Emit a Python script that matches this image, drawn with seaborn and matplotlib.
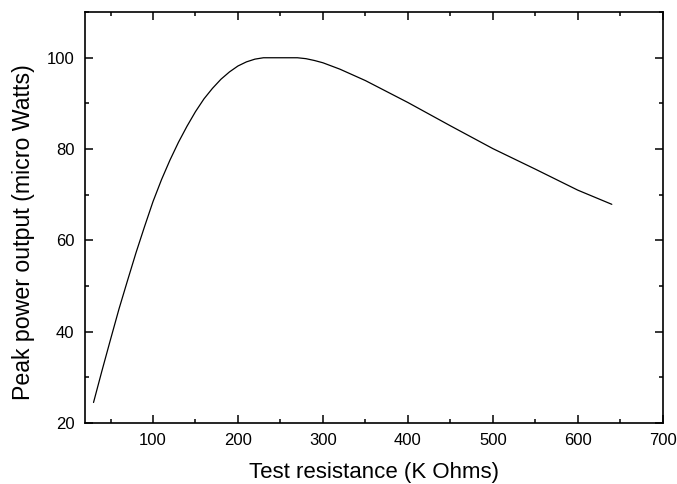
import matplotlib
matplotlib.use("Agg")
import matplotlib.pyplot as plt
from matplotlib.ticker import MultipleLocator
import seaborn as sns
import pandas as pd

resistance = [30, 40, 50, 60, 70, 80, 90, 100, 110, 120, 130, 140, 150, 160, 170,
              180, 190, 200, 210, 220, 230, 270, 280, 290, 300, 320, 350, 400,
              450, 500, 550, 600, 640]
power = [24.5, 31.5, 38.3, 45.0, 51.2, 57.3, 63.0, 68.5, 73.3, 77.6, 81.5, 85.0,
         88.2, 91.0, 93.3, 95.3, 96.9, 98.2, 99.1, 99.7, 100.0, 100.0, 99.8, 99.4,
         98.9, 97.5, 95.0, 90.2, 85.1, 80.1, 75.6, 71.0, 67.9]

df = pd.DataFrame({"R": resistance, "P": power})

sns.set_style("ticks")
plt.rcParams["font.family"] = ["Liberation Sans", "DejaVu Sans"]
plt.rcParams["text.color"] = "black"
plt.rcParams["axes.labelcolor"] = "black"

fig = plt.figure(figsize=(6.77, 4.84), dpi=100)
ax = fig.add_axes([0.1256, 0.126, 0.8534, 0.849])
sns.lineplot(data=df, x="R", y="P", ax=ax, color="black", linewidth=0.9)

ax.set_xlim(20, 700)
ax.set_ylim(20, 110)
ax.xaxis.set_minor_locator(MultipleLocator(50))
ax.yaxis.set_minor_locator(MultipleLocator(10))
ax.set_xticks([100, 200, 300, 400, 500, 600, 700])
ax.set_yticks([20, 40, 60, 80, 100])

ax.tick_params(which="both", direction="in", top=True, right=True,
               labeltop=False, labelright=False, width=1.1, labelsize=12,
               colors="black", labelcolor="black")
ax.tick_params(axis="x", which="major", length=5.5, pad=7.5)
ax.tick_params(axis="y", which="major", length=5.5, pad=7.5)
ax.tick_params(which="minor", length=3)
for s in ax.spines.values():
    s.set_linewidth(1.2)
    s.set_color("black")

ax.set_xlabel("Test resistance (K Ohms)", fontsize=16, labelpad=9.5, color="black")
ax.set_ylabel("Peak power output (micro Watts)", fontsize=16.7, color="black")
ax.yaxis.set_label_coords(-0.086, 0.465)

fig.savefig("out.png", dpi=100)
